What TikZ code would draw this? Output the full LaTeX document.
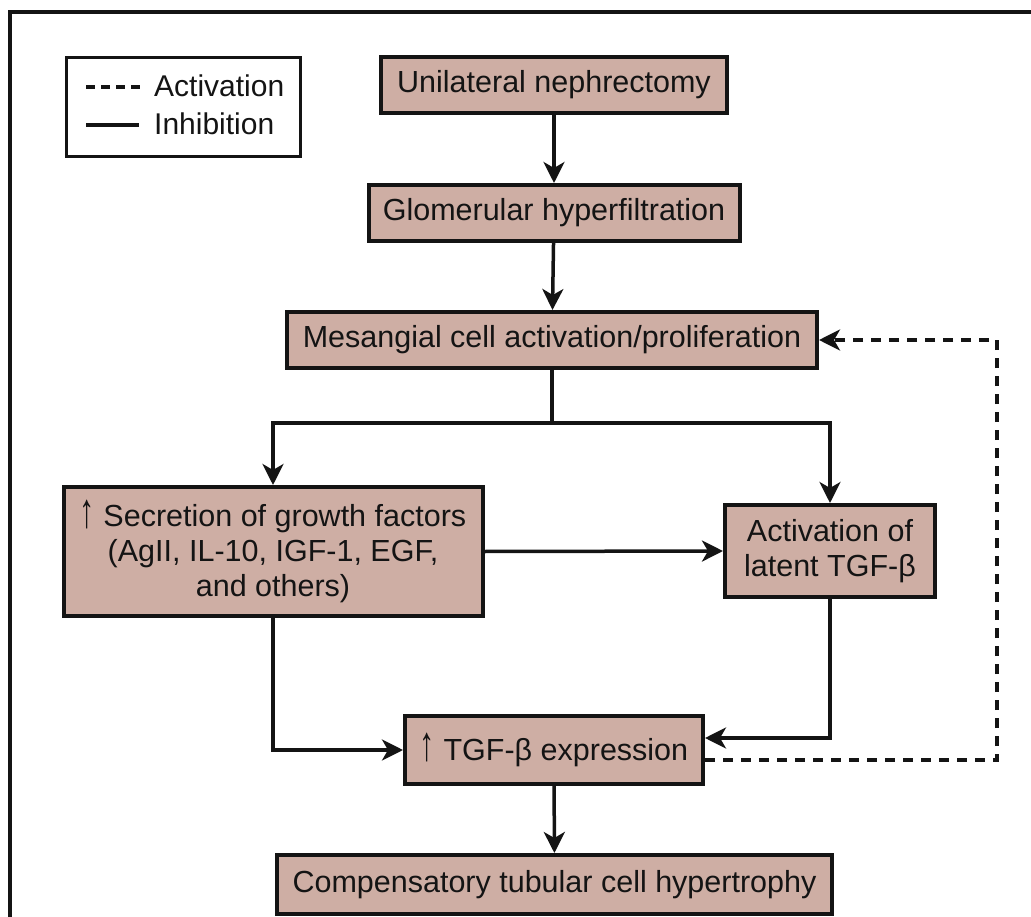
\documentclass[tikz,border=0pt]{standalone}
\usepackage{fontspec}
\usepackage{graphicx}
\setmainfont{Liberation Sans}
\usetikzlibrary{arrows.meta,positioning}
\definecolor{boxfill}{RGB}{206,174,164}
\definecolor{ink}{RGB}{20,20,20}
\newcommand{\uparr}{\raisebox{-0.5pt}{\scalebox{1.0}[1.6]{↑}}}
\tikzset{
  box/.style={draw=ink, line width=4pt, fill=boxfill, inner sep=0pt, align=center,
    text=ink, font=\fontsize{30.5}{35}\selectfont},
  conn/.style={draw=ink, line width=3.5pt},
  arr/.style={conn, -{Stealth[length=21pt,width=21pt,inset=6pt]}},
  dashline/.style={dash pattern=on 10pt off 8pt},
  legdash/.style={dash pattern=on 9pt off 6pt},
  legtext/.style={anchor=west, inner sep=0pt, text=ink, font=\fontsize{30}{34}\selectfont},
}
\begin{document}
\begin{tikzpicture}[x=1pt,y=-1pt]
\useasboundingbox (0,0) rectangle (1031,917);
% outer frame (cropped)
\draw[ink, line width=4pt] (10,917) -- (10,12) -- (1031,12);
% legend
\node[draw=ink, line width=3pt, minimum width=234pt, minimum height=99pt, inner sep=0pt] (leg) at (183,107.5) {};
\node[legtext] (lact) at (154,86) {Activation};
\node[legtext] (linh) at (154,124) {Inhibition};
\coordinate (la0) at (86,87);
\coordinate (la1) at (140,87);
\coordinate (li0) at (86,125);
\coordinate (li1) at (139,125);
\draw[conn, legdash] (la0) -- (la1);
\draw[conn] (li0) -- (li1);
% boxes
\node[box, minimum width=346pt, minimum height=56pt] (un) at (554,85) {Unilateral nephrectomy};
\node[box, minimum width=371pt, minimum height=56pt] (gh) at (554,213) {Glomerular hyperfiltration};
\node[box, minimum width=530pt, minimum height=56pt] (mes) at (552,340) {Mesangial cell activation/proliferation};
\node[box, minimum width=419pt, minimum height=129pt] (sec) at (273,551.5) {\uparr{} Secretion of growth factors\\(AgII, IL-10, IGF-1, EGF,\\and others)};
\node[box, minimum width=210pt, minimum height=92pt] (act) at (830,551) {Activation of\\latent TGF-β};
\node[box, minimum width=298pt, minimum height=68pt] (tgf) at (554,750) {\uparr{} TGF-β expression};
\node[box, minimum width=555pt, minimum height=59pt] (comp) at (554.5,884.5) {Compensatory tubular cell hypertrophy};
% connectors
\draw[arr] (un) -- (gh);
\draw[arr] (gh) -- (mes);
\coordinate (split) at (552,423);
\draw[conn] (mes.south) -- (split);
\draw[arr] (split) -| (sec.north);
\draw[arr] (split) -| (act.north);
\draw[arr] (sec.east) -- (act.west);
\draw[arr] (sec.south) |- (tgf.west);
\draw[arr] (act.south) |- ([yshift=12pt]tgf.east);
\draw[arr, dashline] ([yshift=-10pt]tgf.east) -| ([xshift=178pt]mes.east) -- (mes.east);
\draw[arr] (tgf) -- (comp);
\end{tikzpicture}
\end{document}
